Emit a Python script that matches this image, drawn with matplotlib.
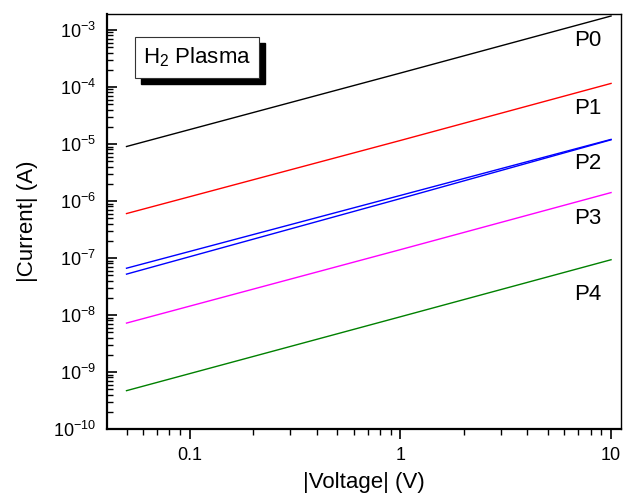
import numpy as np
import matplotlib
matplotlib.use("Agg")
import matplotlib.pyplot as plt
from matplotlib.patches import Rectangle
from matplotlib.ticker import LogLocator, FixedLocator, NullFormatter, FuncFormatter

plt.rcParams["font.family"] = ["Liberation Sans", "DejaVu Sans"]
plt.rcParams["mathtext.fontset"] = "custom"
plt.rcParams["mathtext.rm"] = "Liberation Sans"
plt.rcParams["mathtext.it"] = "Liberation Sans:italic"

# |V| sweep endpoints and mid point
voltage = [0.05, 1.0, 10.0]
p0 = [9.0e-6, 1.75e-4, 1.75e-3]
p1 = [6.0e-7, 1.15e-5, 1.15e-4]
p2a = [6.6e-8, 1.25e-6, 1.2e-5]
p2b = [5.2e-8, 1.1e-6, 1.18e-5]
p3 = [7.2e-9, 1.4e-7, 1.4e-6]
p4 = [4.7e-10, 9.3e-9, 9.3e-8]

series = [
    ("P0", p0, "black"),
    ("P1", p1, "#ff0000"),
    ("P2", p2a, "#0000ff"),
    ("P2b", p2b, "#0000ff"),
    ("P3", p3, "#ff00ff"),
    ("P4", p4, "#008000"),
]
labels = ["P0", "P1", "P2", "P3", "P4"]
label_y = [0.937, 0.773, 0.639, 0.506, 0.323]

fig = plt.figure(figsize=(6.24, 4.99), dpi=100)
ax = fig.add_axes([0.1715, 0.1403, 0.8237, 0.8317])

for name, vals, col in series:
    ax.plot(voltage, vals, color=col, lw=1.0)

ax.set_xscale("log")
ax.set_yscale("log")
ax.set_xlim(0.0404, 11.15)
ax.set_ylim(1e-10, 1.9e-3)

ax.xaxis.set_major_locator(FixedLocator([0.1, 1, 10]))
ax.xaxis.set_major_formatter(FuncFormatter(lambda v, p: f"{v:g}"))
ax.xaxis.set_minor_locator(LogLocator(base=10, subs=np.arange(2, 10)))
ax.xaxis.set_minor_formatter(NullFormatter())

ax.yaxis.set_major_locator(LogLocator(base=10, numticks=20))
ax.yaxis.set_major_formatter(
    FuncFormatter(lambda v, p: r"$\mathregular{10^{%d}}$" % round(np.log10(v))))
ax.yaxis.set_minor_locator(LogLocator(base=10, subs=np.arange(2, 10), numticks=20))
ax.yaxis.set_minor_formatter(NullFormatter())

ax.tick_params(axis="x", which="major", direction="out", length=7, width=1.2,
               labelsize=13, pad=6, top=False)
ax.tick_params(axis="x", which="minor", direction="out", length=4, width=1.0, top=False)
ax.tick_params(axis="y", which="major", direction="in", length=7, width=1.2,
               labelsize=13, pad=8, right=False)
ax.tick_params(axis="y", which="minor", direction="in", length=4, width=1.0, right=False)

for s in ["left", "bottom"]:
    ax.spines[s].set_linewidth(1.6)
for s in ["top", "right"]:
    ax.spines[s].set_linewidth(1.0)

ax.set_xlabel("|Voltage| (V)", fontsize=16, labelpad=6)
ax.set_ylabel("|Current| (A)", fontsize=16, labelpad=11)

for lab, yy in zip(labels, label_y):
    ax.text(0.936, yy, lab, transform=ax.transAxes, fontsize=16,
            ha="center", va="center")

# label box with drop shadow
bx, by, bw, bh = 0.0545, 0.8458, 0.2412, 0.0988
ax.add_patch(Rectangle((bx + 0.0117, by - 0.0145), bw, bh, transform=ax.transAxes,
                       facecolor="black", edgecolor="black", zorder=4))
ax.add_patch(Rectangle((bx, by), bw, bh, transform=ax.transAxes,
                       facecolor="white", edgecolor="#333333", lw=0.8, zorder=5))
ax.text(bx + bw / 2, by + bh / 2, r"H$_\mathregular{2}$ Plasma", transform=ax.transAxes,
        fontsize=16, ha="center", va="center", zorder=6)

fig.savefig("out.png", dpi=100)
